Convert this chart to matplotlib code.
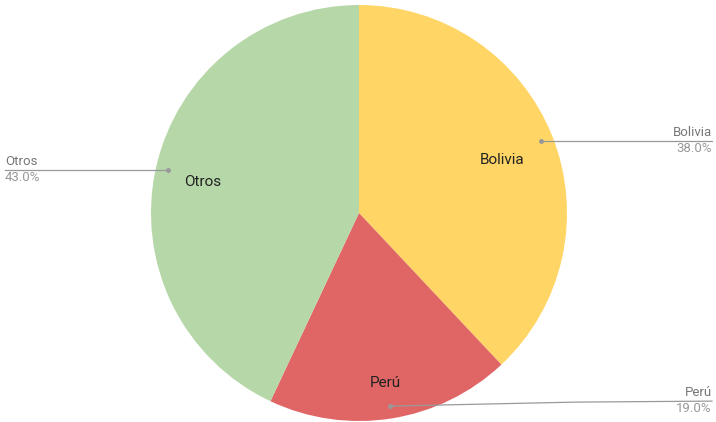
import matplotlib.pyplot as plt
import numpy as np

plt.rcParams['font.family'] = ['Roboto', 'DejaVu Sans']

labels = ['Bolivia', 'Perú', 'Otros']
shares = [38.0, 19.0, 43.0]
colors = ['#FFD666', '#E06666', '#B6D7A8']
label_dist = [0.74, 0.81, 0.77]

W, H = 716, 422
cx, cy, r = 359, 209, 208

fig = plt.figure(figsize=(W / 100, H / 100), dpi=100)
ax = fig.add_axes([0, 0, 1, 1])

wedges, _ = ax.pie(shares, colors=colors, startangle=90,
                   counterclock=False, center=(cx, cy), radius=r, frame=True)

ax.set_xlim(0, W)
ax.set_ylim(0, H)
ax.set_aspect('equal')
ax.axis('off')

for w, lab, val, d in zip(wedges, labels, shares, label_dist):
    ang = np.deg2rad((w.theta1 + w.theta2) / 2)
    # inner label
    ax.text(cx + d * r * np.cos(ang), cy + d * r * np.sin(ang) - 4, lab,
            ha='center', va='center', fontsize=11, color='#222222')
    # leader line + outer label
    px = cx + 0.94 * r * np.cos(ang)
    py = cy + 0.94 * r * np.sin(ang)
    ax.plot([px], [py], 'o', color='#999999', ms=2.5, zorder=5)
    if np.cos(ang) > 0:
        if py < 40:
            xs = [px, 575, 712]
            ys = [py, py + 4, py + 5]
        else:
            xs = [px, 712]
            ys = [py, py]
        ax.plot(xs, ys, color='#999999', lw=0.9, zorder=5)
        ax.text(712, ys[-1] + 2, lab, ha='right', va='bottom', fontsize=9.5, color='#777777')
        ax.text(712, ys[-1] - 1, f'{val:.1f}%', ha='right', va='top', fontsize=9.5, color='#999999')
    else:
        ax.plot([px, 5], [py, py], color='#999999', lw=0.9, zorder=5)
        ax.text(5, py + 2, lab, ha='left', va='bottom', fontsize=9.5, color='#777777')
        ax.text(5, py - 1, f'{val:.1f}%', ha='left', va='top', fontsize=9.5, color='#999999')

fig.savefig('out.png', dpi=100)
